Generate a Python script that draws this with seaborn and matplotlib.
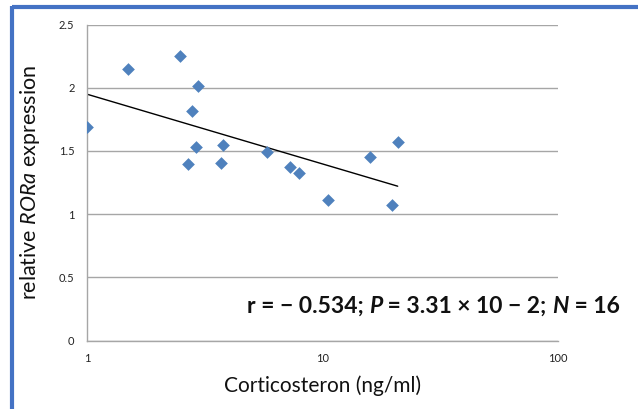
import numpy as np
import pandas as pd
import seaborn as sns
import matplotlib.pyplot as plt
from matplotlib.lines import Line2D
from matplotlib.ticker import FixedLocator, FixedFormatter, NullLocator

# Corticosterone concentration (ng/ml) and relative RORa expression per sample
corticosteron = [1.00, 1.49, 2.48, 2.96, 2.78, 2.89, 2.69, 3.79,
                 3.71, 5.81, 7.30, 7.93, 10.58, 15.87, 20.86, 19.70]
ror_a = [1.691, 2.148, 2.250, 2.010, 1.815, 1.528, 1.395, 1.544,
         1.402, 1.489, 1.370, 1.323, 1.112, 1.452, 1.568, 1.074]

x_ticks = [1, 10, 100]
x_tick_labels = ["1", "10", "100"]
y_ticks = [0, 0.5, 1, 1.5, 2, 2.5]
y_tick_labels = ["0", "0.5", "1", "1.5", "2", "2.5"]

stats_parts = [("r = \u2212 0.534; ", "normal"), ("P", "italic"),
               (" = 3.31 \u00d7 10 \u2212 2; ", "normal"), ("N", "italic"),
               (" = 16", "normal")]

df = pd.DataFrame({"cort": corticosteron, "rora": ror_a})

sns.set_style("white")
plt.rcParams["font.family"] = ["Lato", "DejaVu Sans"]
plt.rcParams["mathtext.fontset"] = "custom"
plt.rcParams["mathtext.rm"] = "Lato"
plt.rcParams["mathtext.it"] = "Lato:italic"

W, H = 638, 409
fig = plt.figure(figsize=(W / 100, H / 100), dpi=100)
ax = fig.add_axes([87 / W, 1 - 340.5 / H, (558 - 87) / W, (340.5 - 24.5) / H])

grid_col = "#a6a6a6"
marker_col = "#4f81bd"

sns.scatterplot(data=df, x="cort", y="rora", marker="D", s=42,
                color=marker_col, edgecolor=marker_col, linewidth=0,
                ax=ax, zorder=3)
sns.regplot(data=df, x="cort", y="rora", logx=True, ci=None, scatter=False,
            truncate=True, color="black", line_kws={"linewidth": 1.0},
            ax=ax)

ax.set_xscale("log")
ax.set_xlim(1, 100)
ax.set_ylim(0, 2.5)
ax.xaxis.set_major_locator(FixedLocator(x_ticks))
ax.xaxis.set_major_formatter(FixedFormatter(x_tick_labels))
ax.xaxis.set_minor_locator(NullLocator())
ax.yaxis.set_major_locator(FixedLocator(y_ticks))
ax.yaxis.set_major_formatter(FixedFormatter(y_tick_labels))

ax.grid(axis="y", color=grid_col, linewidth=1.0)
ax.grid(axis="x", visible=False)
ax.set_axisbelow(True)
for side in ("top", "right"):
    ax.spines[side].set_visible(False)
for side in ("left", "bottom"):
    ax.spines[side].set_color(grid_col)
    ax.spines[side].set_linewidth(1.0)

ax.tick_params(axis="both", which="major", direction="out", length=3,
               width=1.0, color=grid_col, labelsize=8, labelcolor="#222222")
ax.tick_params(axis="y", pad=6)
ax.tick_params(axis="x", pad=6)

ax.set_xlabel("Corticosteron (ng/ml)", fontsize=15, color="#111111", labelpad=8)
ax.set_ylabel(r"relative $\mathit{RORa}$ expression", fontsize=15.5,
              color="#111111", labelpad=12)

# statistics line, assembled piece by piece so P and N can be italic
prev = fig.text(247 / W, 1 - 317 / H, stats_parts[0][0], fontsize=16.5,
                fontweight="bold", ha="left", va="bottom", color="#111111")
for txt, style in stats_parts[1:]:
    prev = ax.annotate(txt, xy=(1, 0), xycoords=prev, fontsize=16.5,
                       fontweight="bold", fontstyle=style, ha="left",
                       va="bottom", color="#111111", annotation_clip=False)

# blue frame along the top and left edges
frame_col = "#4472c4"
fig.add_artist(Line2D([12 / W, 1], [1 - 7 / H, 1 - 7 / H], color=frame_col,
                      linewidth=3.0, transform=fig.transFigure,
                      solid_capstyle="butt"))
fig.add_artist(Line2D([12 / W, 12 / W], [0, 1 - 5.5 / H], color=frame_col,
                      linewidth=3.0, transform=fig.transFigure,
                      solid_capstyle="butt"))

fig.savefig("out.png", dpi=100)
